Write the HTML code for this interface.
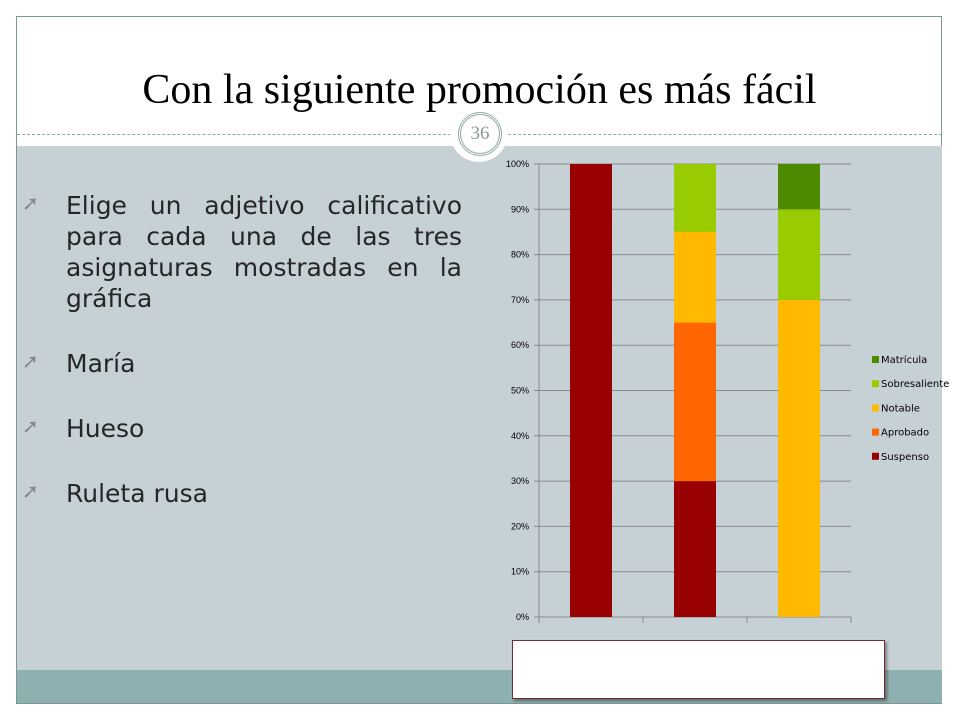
<!DOCTYPE html>
<html><head><meta charset="utf-8"><style>
body{margin:0;width:960px;height:720px;background:#fff;position:relative;overflow:hidden;font-family:"Liberation Sans",sans-serif}
.abs{position:absolute}
</style></head><body>
<div class="abs" style="left:16px;top:16px;width:926px;height:688px;border:1px solid #7f9594;box-sizing:border-box"></div>
<div class="abs" style="left:17px;top:146px;width:925px;height:524px;background:#c6d1d6"></div>
<div class="abs" style="left:17px;top:670px;width:925px;height:33px;background:#8fb0b0"></div>
<div class="abs" style="left:17px;top:134px;width:925px;border-top:1px dashed #8aa"></div>
<div class="abs" style="left:17px;top:66px;width:925px;text-align:center;font-family:'Liberation Serif',serif;font-size:42px;color:#000">Con la siguiente promoción es más fácil</div>
<div class="abs" style="left:450px;top:104px;width:58px;height:58px;border-radius:50%;background:#fff"></div>
<div class="abs" style="left:458px;top:112px;width:38px;height:38px;border-radius:50%;border:3px double #8fa9a6;text-align:center;line-height:38px;font-family:'Liberation Serif',serif;font-size:19px;color:#8a9a98">36</div>
<div class="abs" style="left:22px;top:190px;width:440px;font-family:'DejaVu Sans',sans-serif;font-size:25px;color:#262626;line-height:31px">
<div style="position:relative;padding-left:44px;text-align:justify;text-align-last:left"><span style="position:absolute;left:0;top:-2px;color:#888;font-size:20px">➚</span>Elige un adjetivo calificativo para cada una de las tres asignaturas mostradas en la gráfica</div>
<div style="position:relative;padding-left:44px;margin-top:34px"><span style="position:absolute;left:0;top:-2px;color:#888;font-size:20px">➚</span>María</div>
<div style="position:relative;padding-left:44px;margin-top:34px"><span style="position:absolute;left:0;top:-2px;color:#888;font-size:20px">➚</span>Hueso</div>
<div style="position:relative;padding-left:44px;margin-top:34px"><span style="position:absolute;left:0;top:-2px;color:#888;font-size:20px">➚</span>Ruleta rusa</div>
</div>
<svg class="abs" style="left:0;top:0" width="960" height="720" id="chart"></svg>
<div class="abs" style="left:512px;top:640px;width:371px;height:57px;background:#fff;border:1px solid #7a2a30;box-shadow:2px 2px 3px rgba(0,0,0,.4)"></div>
<script>
const categories=["Asig 1","Asig 2","Asig 3"];
const suspenso=[100,30,0];
const aprobado=[0,35,0];
const notable=[0,20,70];
const sobresaliente=[0,15,20];
const matricula=[0,0,10];
const seriesNames=["Suspenso","Aprobado","Notable","Sobresaliente","Matrícula"];
const yTicks=[0,10,20,30,40,50,60,70,80,90,100];
const colors=["#990000","#ff6600","#ffb900","#99cc00","#4d8a00"];
const series=[suspenso,aprobado,notable,sobresaliente,matricula];
const svg=document.getElementById('chart');const NS="http://www.w3.org/2000/svg";
const X0=539,X1=851,Y0=617,Y1=164;
const y=v=>Y0-(v/100)*(Y0-Y1);
const band=(X1-X0)/categories.length;
const x=i=>X0+band*(i+0.5);
function mk(t,a){const e=document.createElementNS(NS,t);for(const k in a)e.setAttribute(k,a[k]);svg.appendChild(e);return e;}
yTicks.forEach(t=>{
 const g=mk('line',{x1:X0-5,x2:X1,y1:y(t),y2:y(t),stroke:'#8a8a8a','stroke-width':1});
 
 
 const l=mk('text',{x:X0-10,y:y(t)+3,'text-anchor':'end','font-size':9,fill:'#000','font-family':'Liberation Sans,sans-serif'});
 l.textContent=t+'%';
 
 
});
const ax=mk('line',{x1:X0,x2:X0,y1:Y1,y2:Y0,stroke:'#8a8a8a'});


for(let i=0;i<=categories.length;i++){const tk=mk('line',{x1:X0+band*i,x2:X0+band*i,y1:Y0,y2:Y0+6,stroke:'#8a8a8a'});
 
 }
categories.forEach((c,i)=>{let acc=0;series.forEach((s,k)=>{const v=s[i];if(v>0){
 const r=mk('rect',{x:x(i)-21,y:y(acc+v),width:42,height:y(acc)-y(acc+v),fill:colors[k]});
 
 }
 acc+=v;});});
[4,3,2,1,0].forEach((k,j)=>{const yy=360+j*24.2;
 const r=mk('rect',{x:872,y:yy-4,width:7,height:7,fill:colors[k]});
 
 
 const t=mk('text',{x:881,y:yy+3,'font-size':10,fill:'#000','font-family':'DejaVu Sans,sans-serif'});
 t.textContent=seriesNames[k];
 
 });
</script>
</body></html>
